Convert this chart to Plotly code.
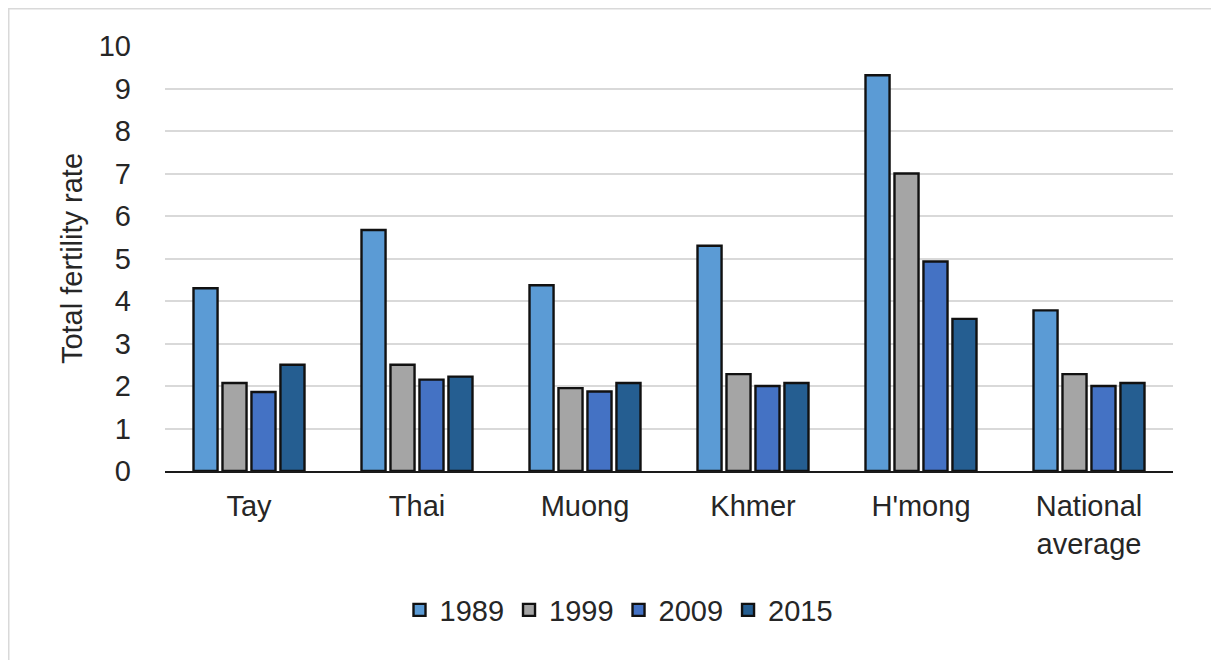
import plotly.graph_objects as go

categories = ["Tay", "Thai", "Muong", "Khmer", "H'mong", "National<br>average"]
years = ["1989", "1999", "2009", "2015"]
v1989 = [4.3, 5.67, 4.37, 5.3, 9.31, 3.78]
v1999 = [2.07, 2.5, 1.95, 2.28, 7.0, 2.28]
v2009 = [1.86, 2.15, 1.87, 2.0, 4.93, 2.0]
v2015 = [2.5, 2.22, 2.07, 2.07, 3.58, 2.07]
colors = ["#5B9BD5", "#A5A5A5", "#4472C4", "#255E91"]

fig = go.Figure()
for name, vals, col in zip(years, [v1989, v1999, v2009, v2015], colors):
    fig.add_trace(go.Bar(
        x=categories, y=vals, name=name,
        marker=dict(color=col, line=dict(color="#111111", width=2.4)),
    ))

OFF = 8  # page body margin
W, H = 1219, 660
# desired plot area in screen pixels
SX0, SX1, SY0, SY1 = 165, 1173, 46, 471
L = SX0 - OFF
R = W - (SX1 - OFF)
T = SY0 - OFF
B = H - (SY1 - OFF)
pw, ph = W - L - R, H - T - B

def px2x(sx):
    return (sx - SX0) / pw

def px2y(sy):
    return (SY1 - sy) / ph

FS = 29
TXT = "#262626"

fig.update_layout(
    width=W, height=H,
    margin=dict(l=L, r=R, t=T, b=B),
    paper_bgcolor="white", plot_bgcolor="white",
    barmode="group", bargap=0.31, bargroupgap=0.17,
    font=dict(family="Liberation Sans, Arial, sans-serif", color=TXT, size=FS),
    legend=dict(orientation="h", x=px2x(619), xanchor="center", y=px2y(610), yanchor="middle",
                font=dict(size=FS, color=TXT), itemwidth=30, traceorder="normal"),
    showlegend=True,
    shapes=[dict(type="rect", xref="paper", yref="paper",
                 x0=px2x(8), x1=px2x(1213), y0=px2y(700), y1=px2y(8),
                 line=dict(color="#D9D9D9", width=3), layer="below")],
)
fig.update_xaxes(showgrid=False, showline=True, linecolor="#1a1a1a", linewidth=2,
                 tickfont=dict(size=FS, color=TXT), ticks="", ticklabelstandoff=8)
fig.update_yaxes(range=[0, 10], dtick=1, showgrid=True, gridcolor="#D9D9D9", gridwidth=2,
                 zeroline=False, showline=False,
                 tickfont=dict(size=FS, color=TXT), ticklabelstandoff=33,
                 title=dict(text="Total fertility rate", font=dict(size=FS, color=TXT), standoff=7))

fig.write_html("out.html")
